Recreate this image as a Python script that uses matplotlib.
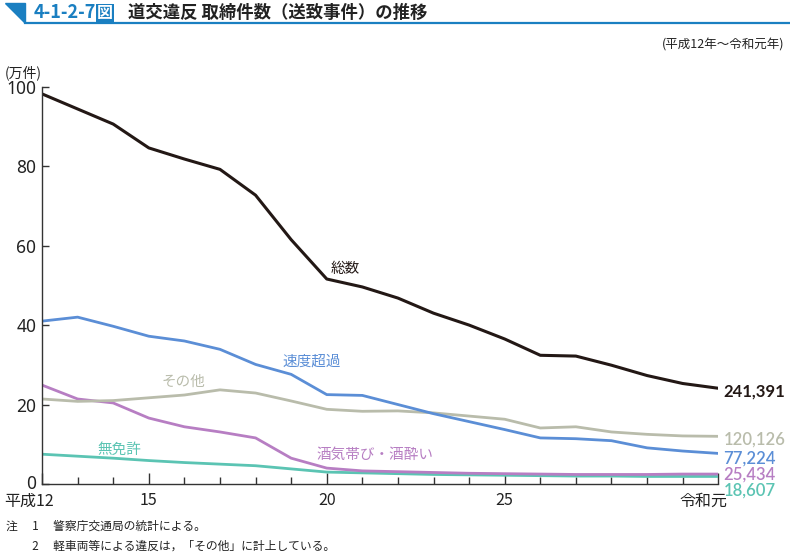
import matplotlib
matplotlib.use('Agg')
import matplotlib.pyplot as plt
from matplotlib.patches import Polygon
from matplotlib.lines import Line2D
from matplotlib.transforms import ScaledTranslation

plt.rcParams['font.family'] = ['Noto Sans CJK JP', 'DejaVu Sans']

# 年度 (平成12 ~ 令和元 = 平成31)
years = list(range(12, 32))

# 万件
total = [98.2, 94.4, 90.6, 84.6, 81.8, 79.2, 72.7, 61.5, 51.6, 49.6,
         46.8, 43.0, 40.0, 36.5, 32.4, 32.2, 29.9, 27.3, 25.3, 24.1]
speed = [41.0, 42.0, 39.7, 37.2, 36.0, 33.9, 30.1, 27.6, 22.5, 22.3,
         20.0, 17.7, 15.7, 13.7, 11.6, 11.4, 10.9, 9.1, 8.3, 7.7]
other = [21.4, 20.8, 21.0, 21.7, 22.4, 23.7, 22.9, 20.9, 18.8, 18.3,
         18.4, 17.9, 17.1, 16.3, 14.1, 14.4, 13.1, 12.5, 12.1, 12.0]
drunk = [24.9, 21.4, 20.4, 16.6, 14.4, 13.1, 11.6, 6.5, 4.0, 3.3,
         3.1, 2.9, 2.7, 2.6, 2.5, 2.4, 2.4, 2.4, 2.5, 2.5]
nolicense = [7.5, 7.0, 6.5, 5.9, 5.4, 5.0, 4.6, 3.8, 3.0, 2.8,
             2.6, 2.4, 2.3, 2.2, 2.1, 2.0, 2.0, 1.9, 1.9, 1.9]

end_values = ['241,391', '120,126', '77,224', '25,434', '18,607']
xtick_pos = [12, 15, 20, 25, 31]
xtick_labels = ['平成12', '15', '20', '25', '令和元']

BLACK = '#231815'
BLUE = '#5b8ed6'
GRAY = '#b9bcab'
PURPLE = '#b77ec3'
TEAL = '#5bc4b3'
TITLE_BLUE = '#1a7fc1'

fig = plt.figure(figsize=(7.9, 5.56), dpi=100)
ax = fig.add_axes([0.0532, 0.1295, 0.856, 0.7145])

ax.plot(years, nolicense, color=TEAL, lw=2.0)
ax.plot(years, drunk, color=PURPLE, lw=2.0)
ax.plot(years, other, color=GRAY, lw=2.0)
ax.plot(years, speed, color=BLUE, lw=2.0)
ax.plot(years, total, color=BLACK, lw=2.2)

ax.set_xlim(12, 31)
ax.set_ylim(0, 100)
for s in ['top', 'right']:
    ax.spines[s].set_visible(False)
for s in ['left', 'bottom']:
    ax.spines[s].set_color('#333333')
    ax.spines[s].set_linewidth(1.0)

ax.set_yticks([0, 20, 40, 60, 80, 100])
ax.tick_params(axis='y', direction='in', length=5, width=1, colors='#333333',
               labelsize=12.5, labelcolor='#222222', pad=4)
for lab in ax.get_yticklabels():
    lab.set_family(['Noto Sans', 'DejaVu Sans'])
ylabs = ax.get_yticklabels()
ylabs[0].set_transform(ylabs[0].get_transform() + ScaledTranslation(0, 0.02, fig.dpi_scale_trans))

ax.set_xticks(xtick_pos)
ax.set_xticklabels(xtick_labels)
ax.set_xticks(years, minor=True)
ax.tick_params(axis='x', which='major', direction='in', length=8, width=1,
               colors='#333333', labelsize=11.5, labelcolor='#222222', pad=6)
ax.tick_params(axis='x', which='minor', direction='in', length=5, width=1,
               colors='#333333')
labels = ax.get_xticklabels()
labels[0].set_transform(labels[0].get_transform() + ScaledTranslation(-0.13, 0, fig.dpi_scale_trans))
labels[-1].set_transform(labels[-1].get_transform() + ScaledTranslation(-0.15, 0, fig.dpi_scale_trans))

# series labels
ax.text(20.1, 53.0, '総数', color=BLACK, fontsize=10.5)
ax.text(18.75, 29.8, '速度超過', color=BLUE, fontsize=10.5)
ax.text(15.35, 24.8, 'その他', color=GRAY, fontsize=10.5)
ax.text(13.55, 7.6, '無免許', color=TEAL, fontsize=10.5)
ax.text(19.7, 6.3, '酒気帯び・酒酔い', color=PURPLE, fontsize=10.5)

# end value labels
end_y = [23.4, 11.1, 6.5, 2.4, -1.6]
end_colors = [BLACK, GRAY, BLUE, PURPLE, TEAL]
for i, (txt, c) in enumerate(zip(end_values, end_colors)):
    ax.text(31.15, end_y[i], txt, color=c, fontsize=12,
            fontweight='bold' if i == 0 else 'semibold', va='center',
            family=['Lato', 'DejaVu Sans'], clip_on=False)

fig.text(0.006, 0.862, '(万件)', fontsize=10, color='#222222')
fig.text(0.993, 0.912, '(平成12年～令和元年)', fontsize=9, color='#222222', ha='right')

# title bar
fig.patches.append(Polygon([[5 / 790, 1 - 3 / 556], [25 / 790, 1 - 3 / 556], [25 / 790, 1 - 23 / 556]],
                           closed=True, transform=fig.transFigure, color=TITLE_BLUE))
fig.lines.append(Line2D([25 / 790, 1], [1 - 22.5 / 556, 1 - 22.5 / 556], transform=fig.transFigure,
                        color=TITLE_BLUE, lw=1.6))
fig.text(34 / 790, 1 - 13 / 556, '4-1-2-7', color=TITLE_BLUE, fontsize=13, fontweight='bold', va='center')
fig.text(97 / 790, 1 - 13 / 556, '図', color='white', fontsize=11.5, fontweight='bold', va='center',
         bbox=dict(boxstyle='square,pad=0.05', fc=TITLE_BLUE, ec='none'))
fig.text(128 / 790, 1 - 13 / 556, '道交違反 取締件数（送致事件）の推移', color='#222222',
         fontsize=12.5, fontweight='bold', va='center')

# notes
fig.text(0.008, 1 - 526 / 556, '注　 1　 警察庁交通局の統計による。', fontsize=8.5, color='#222222', va='center')
fig.text(0.008, 1 - 546 / 556, '　　 2　 軽車両等による違反は，「その他」に計上している。', fontsize=8.5,
         color='#222222', va='center')

fig.savefig('out.png', dpi=100)
